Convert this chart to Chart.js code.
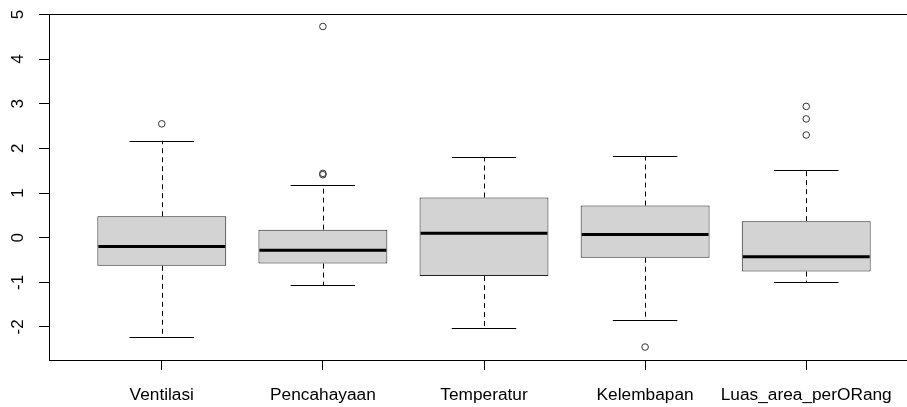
<!DOCTYPE html>
<html>
<head>
<meta charset="utf-8">
<script src="https://cdn.jsdelivr.net/npm/chart.js@4.4.1/dist/chart.umd.min.js"></script>
<style>
  html, body { margin: 0; padding: 0; background: #fff; overflow: hidden; }
  #wrap { width: 924px; height: 407px; }
</style>
</head>
<body>
<div id="wrap"><canvas id="box-chart" width="924" height="407"></canvas></div>
<script>
// ----------------------------- data -----------------------------
const categories = ['Ventilasi', 'Pencahayaan', 'Temperatur', 'Kelembapan', 'Luas_area_perORang'];
const lowerWhisker = [-2.23, -1.06, -2.03, -1.85, -1.00];
const q1 = [-0.63, -0.58, -0.86, -0.45, -0.76];
const median = [-0.20, -0.28, 0.10, 0.07, -0.43];
const q3 = [0.48, 0.18, 0.90, 0.72, 0.37];
const upperWhisker = [2.17, 1.19, 1.80, 1.82, 1.51];
const outliers = [[2.55], [4.73, 1.44, 1.41], [], [-2.45], [2.94, 2.66, 2.30]];
const yTicks = [-2, -1, 0, 1, 2, 3, 4, 5];
const xTicks = [1, 2, 3, 4, 5];

const boxWidth = 0.8;
const capWidth = 0.4;
const fontFamily = '"Liberation Sans", Arial, sans-serif';

// boxes as floating bars, outliers as scatter points
const boxData = categories.map((c, i) => ({ x: i + 1, y: [q1[i], q3[i]] }));
const outlierData = [];
outliers.forEach((list, i) => {
    list.forEach(v => outlierData.push({ x: i + 1, y: v }));
});

// whiskers, caps, medians and the frame around the plot
const boxPlotLines = {
    id: 'boxPlotLines',
    beforeDatasetsDraw(chart) {
        const ctx = chart.ctx;
        const xs = chart.scales.x, ys = chart.scales.y;
        ctx.save();
        ctx.strokeStyle = '#000';
        ctx.lineWidth = 1;
        categories.forEach((c, i) => {
            const x = Math.round(xs.getPixelForValue(i + 1)) + 0.5;
            ctx.setLineDash([5, 4]);
            ctx.beginPath();
            ctx.moveTo(x, ys.getPixelForValue(q3[i]));
            ctx.lineTo(x, ys.getPixelForValue(upperWhisker[i]));
            ctx.moveTo(x, ys.getPixelForValue(q1[i]));
            ctx.lineTo(x, ys.getPixelForValue(lowerWhisker[i]));
            ctx.stroke();
            ctx.setLineDash([]);
            const cl = xs.getPixelForValue(i + 1 - capWidth / 2);
            const cr = xs.getPixelForValue(i + 1 + capWidth / 2);
            ctx.beginPath();
            [upperWhisker[i], lowerWhisker[i]].forEach(v => {
                const y = Math.round(ys.getPixelForValue(v)) + 0.5;
                ctx.moveTo(cl, y);
                ctx.lineTo(cr, y);
            });
            ctx.stroke();
        });
        ctx.restore();
    },
    afterDatasetsDraw(chart) {
        const ctx = chart.ctx;
        const xs = chart.scales.x, ys = chart.scales.y;
        const area = chart.chartArea;
        ctx.save();
        ctx.strokeStyle = '#000';
        ctx.lineWidth = 3;
        categories.forEach((c, i) => {
            const y = ys.getPixelForValue(median[i]);
            ctx.beginPath();
            ctx.moveTo(xs.getPixelForValue(i + 1 - boxWidth / 2) + 1, y);
            ctx.lineTo(xs.getPixelForValue(i + 1 + boxWidth / 2) - 1, y);
            ctx.stroke();
        });
        ctx.lineWidth = 1;
        ctx.strokeRect(Math.round(area.left) + 0.5, Math.round(area.top) + 0.5,
            Math.round(area.right - area.left), Math.round(area.bottom - area.top));
        ctx.restore();
    }
};

new Chart(document.getElementById('box-chart'), {
    type: 'bar',
    data: {
        datasets: [{
            data: boxData,
            backgroundColor: '#d3d3d3',
            borderColor: '#222',
            borderWidth: 1,
            borderSkipped: false,
            barPercentage: boxWidth,
            categoryPercentage: 1
        }, {
            type: 'scatter',
            data: outlierData,
            pointRadius: 3.3,
            pointBorderWidth: 1,
            pointBorderColor: '#333',
            pointBackgroundColor: 'rgba(255,255,255,0)',
            showLine: false
        }]
    },
    options: {
        responsive: false,
        animation: false,
        layout: { padding: { top: 14, right: 0, bottom: 0, left: 0 } },
        plugins: { legend: { display: false }, tooltip: { enabled: false } },
        scales: {
            x: {
                type: 'linear',
                min: 0.3,
                max: 5.7,
                offset: false,
                afterBuildTicks: scale => { scale.ticks = xTicks.map(v => ({ value: v })); },
                afterFit: scale => {
                    scale.height = 47;
                    scale.paddingLeft = 0;
                    scale.paddingRight = 0;
                },
                grid: { offset: false, drawOnChartArea: false, drawTicks: true, tickLength: 10, color: '#000' },
                border: { display: false },
                ticks: {
                    autoSkip: false,
                    minRotation: 0,
                    maxRotation: 0,
                    padding: 15,
                    color: '#000',
                    font: { family: fontFamily, size: 17.3 },
                    callback: v => categories[v - 1]
                }
            },
            y: {
                min: -2.74,
                max: 5.01,
                afterBuildTicks: scale => { scale.ticks = yTicks.map(v => ({ value: v })); },
                afterFit: scale => {
                    scale.width = 49;
                    scale.paddingTop = 0;
                    scale.paddingBottom = 0;
                },
                grid: { drawOnChartArea: false, drawTicks: true, tickLength: 10, color: '#000' },
                border: { display: false },
                ticks: {
                    minRotation: 90,
                    maxRotation: 90,
                    crossAlign: 'center',
                    padding: 13,
                    color: '#000',
                    font: { family: fontFamily, size: 17 }
                }
            }
        }
    },
    plugins: [boxPlotLines]
});
</script>
</body>
</html>
